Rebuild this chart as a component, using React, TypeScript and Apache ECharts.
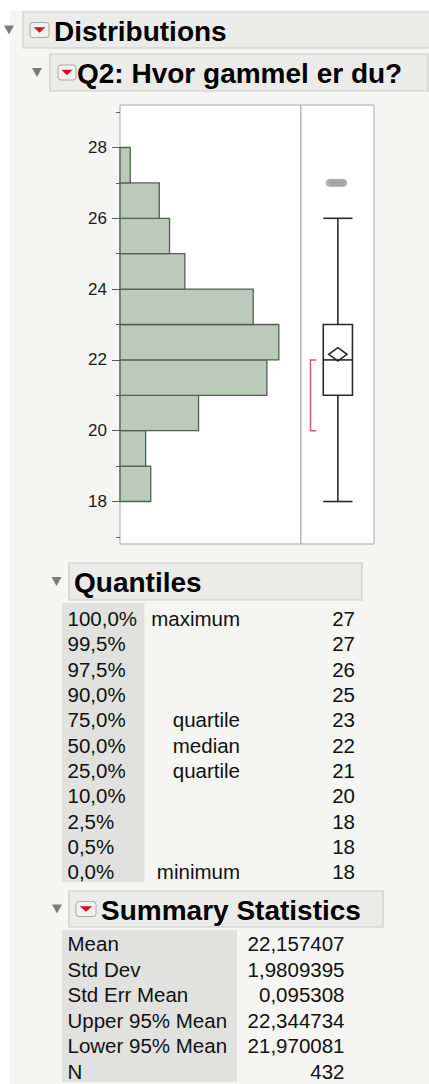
import React, { useEffect, useRef } from "react";
import * as echarts from "echarts";

// Ages (lower edge of each one-year bin) and respondent counts
const ages = [18, 19, 20, 21, 22, 23, 24, 25, 26, 27];
const counts = [18, 15, 46, 86, 93, 78, 38, 29, 23, 6];
const binWidth = 1;

const yTickLabels = [18, 20, 22, 24, 26, 28];
const yMinorTicks = [17, 19, 21, 23, 25, 27, 29];

const quantileLevels = ["100,0%", "99,5%", "97,5%", "90,0%", "75,0%", "50,0%", "25,0%", "10,0%", "2,5%", "0,5%", "0,0%"];
const quantileNames = ["maximum", "", "", "", "quartile", "median", "quartile", "", "", "", "minimum"];
const quantileValues = [27, 27, 26, 25, 23, 22, 21, 20, 18, 18, 18];

const summaryLabels = ["Mean", "Std Dev", "Std Err Mean", "Upper 95% Mean", "Lower 95% Mean", "N"];
const summaryValues = [22.157407, 1.9809395, 0.095308, 22.344734, 21.970081, 432];

// Shortest half interval
const shortestHalf = [20, 22];

const FONT = "'Liberation Sans', Arial, Helvetica, sans-serif";
const TEXT = "#111111";

const q75 = quantileValues[4];
const q50 = quantileValues[5];
const q25 = quantileValues[6];
const mean = summaryValues[0];
const upper95 = summaryValues[3];
const lower95 = summaryValues[4];

const iqr = q75 - q25;
const observed = ages.filter((_, i) => counts[i] > 0);
const whiskerHi = Math.max(...observed.filter((a) => a <= q75 + 1.5 * iqr));
const whiskerLo = Math.min(...observed.filter((a) => a >= q25 - 1.5 * iqr));

// horizontal jitter for outlier points inside the box-plot strip
const jitter = [0.39, 0.43, 0.47, 0.51, 0.55, 0.58];
const outlierPoints: number[][] = [];
ages.forEach((a, i) => {
  if (a > whiskerHi || a < whiskerLo) {
    for (let k = 0; k < counts[i]; k++) outlierPoints.push([jitter[k % jitter.length], a]);
  }
});

const fmt = (v: number) => String(v).replace(".", ",");

function downTriangle(cx: number, cy: number, w: number, h: number, fill: string) {
  return {
    type: "polygon",
    shape: { points: [[cx - w / 2, cy - h / 2], [cx + w / 2, cy - h / 2], [cx, cy + h / 2]] },
    style: { fill },
    silent: true,
  };
}

function popupIcon(x: number, y: number, w: number, h: number) {
  return [
    { type: "rect", shape: { x, y, width: w, height: h, r: 3 }, style: { fill: "#f3f0f0", stroke: "#a8a8a8", lineWidth: 1 } },
    downTriangle(x + w / 2, y + h / 2, w * 0.62, h * 0.38, "#c9142b"),
  ];
}

function header(opts: { x0: number; x1: number; y0: number; y1: number; tri: number; icon?: number; iconW?: number; textX: number; text: string }) {
  const cy = (opts.y0 + opts.y1) / 2;
  const els: any[] = [
    { type: "rect", shape: { x: opts.x0, y: opts.y0, width: opts.x1 - opts.x0, height: opts.y1 - opts.y0 }, style: { fill: "#ebebe9", stroke: "#cbcbc9", lineWidth: 1.2 } },
    downTriangle(opts.tri, cy, 10, 9, "#7c7c7c"),
  ];
  if (opts.icon !== undefined) els.push(...popupIcon(opts.icon, cy - 7.5, opts.iconW || 19, 15));
  els.push({
    type: "text",
    x: opts.textX,
    y: cy + 1,
    style: { text: opts.text, fontFamily: FONT, fontWeight: "bold", fontSize: 28, fill: "#000", align: "left", verticalAlign: "middle" },
  });
  return els;
}

function buildGraphic() {
  const els: any[] = [];
  els.push(...header({ x0: 23, x1: 470, y0: 12, y1: 48, tri: 9, icon: 30, iconW: 19, textX: 54, text: "Distributions" }));
  els.push(...header({ x0: 50, x1: 428, y0: 54, y1: 91, tri: 37, icon: 58, iconW: 18, textX: 77, text: "Q2: Hvor gammel er du?" }));
  els.push(...header({ x0: 69, x1: 362, y0: 563, y1: 600, tri: 56.5, textX: 74, text: "Quantiles" }));
  els.push(...header({ x0: 69, x1: 383, y0: 891, y1: 927, tri: 57, icon: 76, iconW: 20, textX: 101, text: "Summary Statistics" }));

  // Quantiles table
  els.push({ type: "rect", shape: { x: 62, y: 603, width: 82.5, height: 279 }, style: { fill: "#e1e1df" } });
  quantileLevels.forEach((lvl, i) => {
    const y = 618.5 + i * 25.33;
    const base = { fontFamily: FONT, fontSize: 20.5, fill: TEXT, verticalAlign: "middle" };
    els.push({ type: "text", x: 67.5, y, style: { ...base, text: lvl, align: "left" } });
    if (quantileNames[i]) els.push({ type: "text", x: 240, y, style: { ...base, text: quantileNames[i], align: "right" } });
    els.push({ type: "text", x: 355, y, style: { ...base, text: fmt(quantileValues[i]), align: "right" } });
  });

  // Summary statistics table
  els.push({ type: "rect", shape: { x: 62, y: 930, width: 175, height: 152 }, style: { fill: "#e1e1df" } });
  summaryLabels.forEach((lab, i) => {
    const y = 943.5 + i * 25.5;
    const base = { fontFamily: FONT, fontSize: 20.5, fill: TEXT, verticalAlign: "middle" };
    els.push({ type: "text", x: 67.5, y, style: { ...base, text: lab, align: "left" } });
    els.push({ type: "text", x: 344.5, y, style: { ...base, text: fmt(summaryValues[i]), align: "right" } });
  });
  return els;
}

const Y_MIN = 16.8;
const Y_MAX = 29.2;

function buildOption(): any {
  const boxStroke = { stroke: "#2a2a2a", lineWidth: 1.6, fill: "none" };
  return {
    animation: false,
    backgroundColor: "transparent",
    grid: [
      { left: 120, top: 105, width: 181, height: 439, show: true, backgroundColor: "#ffffff", borderColor: "#a9a9a9", borderWidth: 1 },
      { left: 301, top: 105, width: 73, height: 439, show: true, backgroundColor: "#ffffff", borderColor: "#a9a9a9", borderWidth: 1 },
    ],
    xAxis: [
      { type: "value", gridIndex: 0, min: 0, max: 106, show: false },
      { type: "value", gridIndex: 1, min: 0, max: 1, show: false },
    ],
    yAxis: [
      {
        type: "value", gridIndex: 0, min: Y_MIN, max: Y_MAX, position: "left",
        axisLine: { show: false },
        splitLine: { show: false },
        axisTick: { show: true, length: 8, customValues: yTickLabels, lineStyle: { color: "#5c5c5c", width: 1 } },
        axisLabel: { show: true, customValues: yTickLabels, margin: 13, fontFamily: FONT, fontSize: 17, color: "#1a1a1a" },
      },
      {
        type: "value", gridIndex: 0, min: Y_MIN, max: Y_MAX, position: "left",
        axisLine: { show: false },
        splitLine: { show: false },
        axisTick: { show: true, length: 4, customValues: yMinorTicks, lineStyle: { color: "#5c5c5c", width: 1 } },
        axisLabel: { show: false },
      },
      { type: "value", gridIndex: 1, min: Y_MIN, max: Y_MAX, show: false },
    ],
    graphic: { elements: buildGraphic() },
    series: [
      {
        type: "custom",
        name: "histogram",
        xAxisIndex: 0,
        yAxisIndex: 0,
        data: ages.map((a, i) => [counts[i], a]),
        encode: { x: 0, y: 1 },
        renderItem: (_p: any, api: any) => {
          const c = api.value(0);
          const a = api.value(1);
          const p1 = api.coord([0, a + binWidth]);
          const p2 = api.coord([c, a]);
          return {
            type: "rect",
            shape: { x: p1[0], y: p1[1], width: p2[0] - p1[0], height: p2[1] - p1[1] },
            style: { fill: "#bccabb", stroke: "#51614f", lineWidth: 1.3 },
          };
        },
      },
      {
        type: "custom",
        name: "box",
        xAxisIndex: 1,
        yAxisIndex: 2,
        data: [[0.505, whiskerLo, q25, q50, q75, whiskerHi]],
        encode: { x: 0, y: [1, 2, 3, 4, 5] },
        renderItem: (_p: any, api: any) => {
          const cx = api.value(0);
          const half = 0.2;
          const [xl, yTop] = api.coord([cx - half, api.value(4)]);
          const [xr, yBot] = api.coord([cx + half, api.value(2)]);
          const [xc, yMed] = api.coord([cx, api.value(3)]);
          const yLo = api.coord([cx, api.value(1)])[1];
          const yHi = api.coord([cx, api.value(5)])[1];
          return {
            type: "group",
            children: [
              { type: "line", shape: { x1: xc, y1: yHi, x2: xc, y2: yTop }, style: boxStroke },
              { type: "line", shape: { x1: xc, y1: yBot, x2: xc, y2: yLo }, style: boxStroke },
              { type: "line", shape: { x1: xl, y1: yHi, x2: xr, y2: yHi }, style: boxStroke },
              { type: "line", shape: { x1: xl, y1: yLo, x2: xr, y2: yLo }, style: boxStroke },
              { type: "rect", shape: { x: xl, y: yTop, width: xr - xl, height: yBot - yTop }, style: { ...boxStroke, fill: "#ffffff" } },
              { type: "line", shape: { x1: xl, y1: yMed, x2: xr, y2: yMed }, style: boxStroke },
            ],
          };
        },
      },
      {
        type: "custom",
        name: "mean diamond",
        xAxisIndex: 1,
        yAxisIndex: 2,
        z: 3,
        data: [[0.505, lower95, mean, upper95]],
        encode: { x: 0, y: [1, 2, 3] },
        renderItem: (_p: any, api: any) => {
          const cx = api.value(0);
          const dw = 0.125;
          const top = api.coord([cx, api.value(3)]);
          const bot = api.coord([cx, api.value(1)]);
          const l = api.coord([cx - dw, api.value(2)]);
          const r = api.coord([cx + dw, api.value(2)]);
          return {
            type: "polygon",
            shape: { points: [top, r, bot, l] },
            style: { fill: "none", stroke: "#2a2a2a", lineWidth: 1.6 },
          };
        },
      },
      {
        type: "custom",
        name: "shortest half",
        xAxisIndex: 1,
        yAxisIndex: 2,
        data: [[0.13, shortestHalf[0], shortestHalf[1]]],
        encode: { x: 0, y: [1, 2] },
        renderItem: (_p: any, api: any) => {
          const bx = api.value(0);
          const w = 0.08;
          const a = api.coord([bx + w, api.value(2)]);
          const b = api.coord([bx, api.value(2)]);
          const c = api.coord([bx, api.value(1)]);
          const d = api.coord([bx + w, api.value(1)]);
          return {
            type: "polyline",
            shape: { points: [a, b, c, d] },
            style: { fill: "none", stroke: "#d2587a", lineWidth: 1.5 },
          };
        },
      },
      {
        type: "scatter",
        name: "outliers",
        xAxisIndex: 1,
        yAxisIndex: 2,
        symbol: "circle",
        symbolSize: 8,
        itemStyle: { color: "#a3a3a3" },
        data: outlierPoints,
      },
    ],
  };
}

export default function App() {
  const ref = useRef<HTMLDivElement>(null);
  useEffect(() => {
    if (!ref.current) return;
    const chart = echarts.init(ref.current, undefined, { renderer: "svg" });
    chart.setOption(buildOption());
    return () => chart.dispose();
  }, []);
  return (
    <div style={{ position: "absolute", left: 0, top: 0, width: 429, height: 1084, background: "#ffffff", overflow: "hidden" }}>
      <div style={{ position: "absolute", left: 10, top: 10, right: 0, bottom: 0, background: "#f5f5f3" }} />
      <div ref={ref} style={{ position: "absolute", left: 0, top: 0, width: 429, height: 1084 }} />
    </div>
  );
}
